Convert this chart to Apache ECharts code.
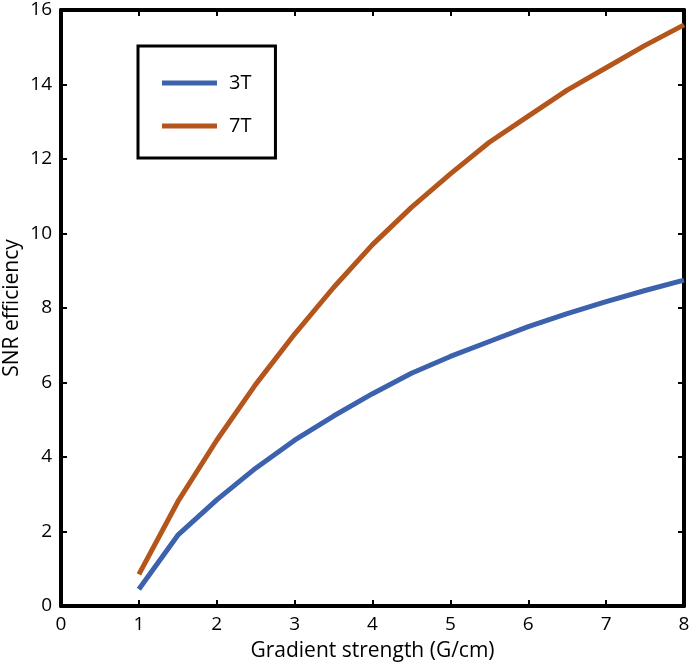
<!DOCTYPE html>
<html>
<head>
<meta charset="utf-8">
<script src="https://cdn.jsdelivr.net/npm/echarts@6/dist/echarts.min.js"></script>
<style>html,body{margin:0;padding:0;background:#fff;}#c{width:692px;height:664px;}</style>
</head>
<body>
<div id="c"></div>
<script>
const gradient = [1, 1.5, 2, 2.5, 3, 3.5, 4, 4.5, 5, 5.5, 6, 6.5, 7, 7.5, 8];
const snr3T = [0.45, 1.9, 2.85, 3.7, 4.45, 5.1, 5.7, 6.25, 6.7, 7.1, 7.5, 7.85, 8.17, 8.47, 8.75];
const snr7T = [0.85, 2.8, 4.45, 5.95, 7.3, 8.55, 9.7, 10.7, 11.6, 12.45, 13.15, 13.85, 14.45, 15.05, 15.6];
const seriesNames = ['3T', '7T'];
const xLabel = 'Gradient strength (G/cm)';
const yLabel = 'SNR efficiency';

const font = 'Open Sans';
const chart = echarts.init(document.getElementById('c'));
const axisLine = {show: true, onZero: false, lineStyle: {color: '#000', width: 4}};
const tick = {show: true, inside: true, length: 6, lineStyle: {color: '#000', width: 2}};
chart.setOption({
  animation: false,
  backgroundColor: '#fff',
  grid: {left: 61, right: 8, top: 10, bottom: 58, containLabel: false, outerBoundsMode: 'none'},
  legend: {
    orient: 'vertical', left: 138, top: 46,
    data: seriesNames,
    icon: 'rect', itemWidth: 55, itemHeight: 5, itemGap: 23,
    padding: [27, 24, 22, 24],
    borderColor: '#000', borderWidth: 3,
    textStyle: {fontFamily: font, fontSize: 20, color: '#000', padding: [0, 0, 0, 7]}
  },
  xAxis: [{
    type: 'value', min: 0, max: 8, interval: 1,
    name: xLabel, nameLocation: 'middle', nameGap: 35,
    nameTextStyle: {fontFamily: font, fontSize: 21, color: '#000'},
    axisLine: axisLine, axisTick: tick, splitLine: {show: false},
    axisLabel: {fontFamily: font, fontSize: 19, color: '#000', margin: 9}
  }, {
    type: 'value', min: 0, max: 8, interval: 1, position: 'top',
    axisLine: axisLine, axisTick: tick, splitLine: {show: false}, axisLabel: {show: false}
  }],
  yAxis: [{
    type: 'value', min: 0, max: 16, interval: 2,
    name: yLabel, nameLocation: 'middle', nameGap: 38, nameMoveOverlap: false,
    nameTextStyle: {fontFamily: font, fontSize: 21, color: '#000'},
    axisLine: axisLine, axisTick: tick, splitLine: {show: false},
    axisLabel: {fontFamily: font, fontSize: 19, color: '#000', margin: 9}
  }, {
    type: 'value', min: 0, max: 16, interval: 2, position: 'right',
    axisLine: axisLine, axisTick: tick, splitLine: {show: false}, axisLabel: {show: false}
  }],
  series: [{
    name: seriesNames[0], type: 'line', showSymbol: false, smooth: false,
    data: gradient.map((g, i) => [g, snr3T[i]]),
    lineStyle: {color: '#3d62ad', width: 5}, itemStyle: {color: '#3d62ad'}
  }, {
    name: seriesNames[1], type: 'line', showSymbol: false, smooth: false,
    data: gradient.map((g, i) => [g, snr7T[i]]),
    lineStyle: {color: '#b4561c', width: 5}, itemStyle: {color: '#b4561c'}
  }]
});
</script>
</body>
</html>
